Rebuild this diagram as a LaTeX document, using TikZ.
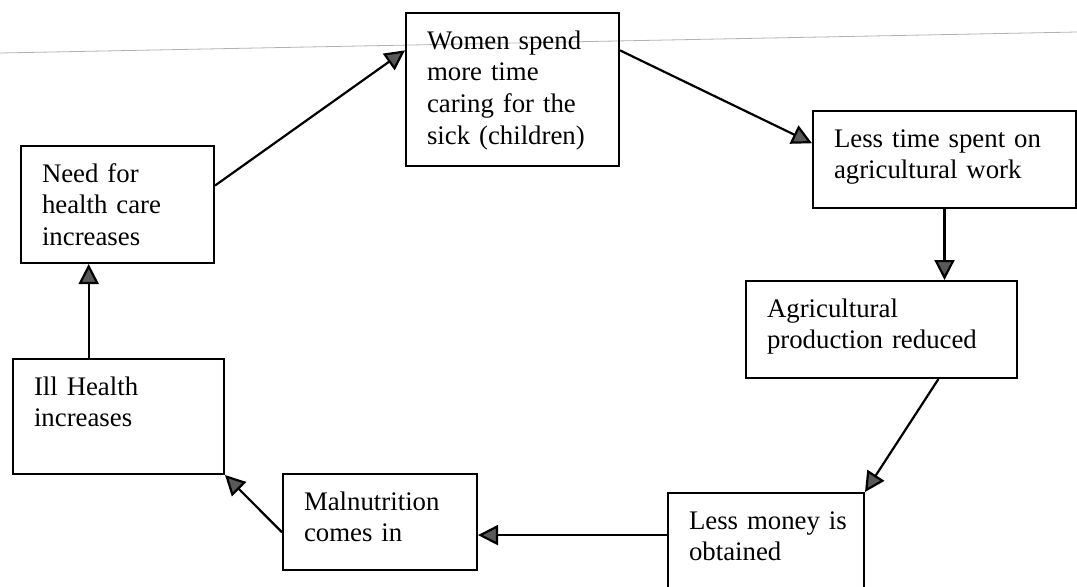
\documentclass[tikz,border=0pt]{standalone}
\usepackage{fontspec}
\setmainfont{Liberation Serif}
\usetikzlibrary{arrows.meta,positioning,calc}

\tikzset{
    cyclebox/.style={draw, line width=1pt, rectangle, anchor=north west, align=left,
        inner xsep=10.5pt, inner ysep=0pt, text height=18pt,
        font=\fontsize{13.4pt}{15.85pt}\selectfont},
    cyclearrow/.style={line width=1.1pt, -{Triangle[length=10pt,width=10pt,fill=black!65]}}
}

\begin{document}
\begin{tikzpicture}[x=0.5pt, y=-0.5pt]
    \useasboundingbox (0,0) rectangle (1077,586);
    % faint line across the top of the page
    \draw[black!30, line width=0.4pt] (0,53) -- (1077,32);

    \node[cyclebox, text width=75.5pt, text depth=40.5pt] (need) at (20,145) {Need for\\ health care\\ increases};
    \node[cyclebox, text width=85.5pt, text depth=58.5pt] (women) at (405,12) {Women spend\\ more time\\ caring for the\\ sick (children)};
    \node[cyclebox, text width=110.5pt, text depth=30.5pt] (lesstime) at (812,110) {Less time spent on\\ agricultural work};
    \node[cyclebox, text width=114.5pt, text depth=30.5pt] (agri) at (745,280) {Agricultural\\ production reduced};
    \node[cyclebox, text width=77pt, text depth=31pt] (money) at (667,492) {\mbox{Less money is}\\ obtained};
    \node[cyclebox, text width=76pt, text depth=30pt] (malnut) at (282,473) {Malnutrition\\ comes in};
    \node[cyclebox, text width=84.5pt, text depth=39.5pt] (ill) at (12,358) {Ill Health\\ increases};

    \draw[cyclearrow] (need.11) -- (women.160);
    \draw[cyclearrow] (women.20) -- (lesstime.173);
    \draw[cyclearrow] (lesstime.south) -- (lesstime.south |- agri.north);
    \draw[cyclearrow] (agri.-41) -- (money.north east);
    \draw[cyclearrow] (money.176) -- (money.176 -| malnut.east);
    \draw[cyclearrow] (malnut.186) -- (ill.south east);
    \draw[cyclearrow] (ill.117) -- (ill.117 |- need.south);
\end{tikzpicture}
\end{document}
